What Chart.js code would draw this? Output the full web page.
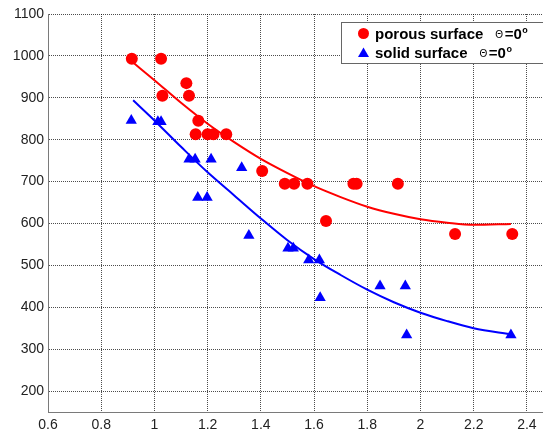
<!DOCTYPE html>
<html>
<head>
<meta charset="utf-8">
<script src="https://cdn.jsdelivr.net/npm/chart.js@4/dist/chart.umd.min.js"></script>
<style>
  html, body { margin: 0; padding: 0; background: #fff; overflow: hidden; }
  #wrap { width: 560px; height: 436px; position: relative; }
</style>
</head>
<body>
<div id="wrap"><canvas id="chart"></canvas></div>
<script>
// measured points, porous surface (red circles)
const porousX = [0.915, 1.025, 1.12, 1.03, 1.13, 1.165, 1.155, 1.2, 1.222, 1.27, 1.405, 1.49, 1.525, 1.575, 1.748, 1.76, 1.915, 1.645, 2.13, 2.345]
const porousY = [993, 993, 935, 905, 905, 845, 813, 813, 813, 813, 725, 695, 695, 695, 695, 695, 695, 606, 575, 575]

// measured points, solid surface (blue triangles)
const solidX = [0.913, 1.013, 1.025, 1.13, 1.153, 1.213, 1.328, 1.163, 1.198, 1.355, 1.502, 1.522, 1.58, 1.62, 1.623, 1.848, 1.943, 1.948, 2.34]
const solidY = [846, 843, 843, 753, 753, 753, 733, 662, 662, 571, 541, 541, 513, 513, 423, 451, 451, 334, 334]

// trend curves
const fitX = [0.92, 1.0, 1.1, 1.2, 1.3, 1.4, 1.5, 1.6, 1.7, 1.8, 1.9, 2.0, 2.1, 2.2, 2.34]
const porousFit = [984, 942, 888, 838, 794, 754, 720, 689, 663, 640, 623, 610, 602, 597, 599]
const solidFit = [894, 846, 783, 722, 667, 612, 560, 515, 477, 442, 412, 387, 367, 350, 335]

const xTicks = [0.6, 0.8, 1, 1.2, 1.4, 1.6, 1.8, 2, 2.2, 2.4]
const yTicks = [200, 300, 400, 500, 600, 700, 800, 900, 1000, 1100]

const legendRows = [
  { label: 'porous surface', color: '#ff0000', shape: 'circle' },
  { label: 'solid surface', color: '#0000ff', shape: 'triangle' }
]

const FONT = "'Liberation Sans', Arial, sans-serif"

const pairs = (xs, ys) => xs.map((x, i) => ({ x: x, y: ys[i] }))

// legend box drawn inside the plot, top right
const boxLegend = {
  id: 'boxLegend',
  afterDraw(chart) {
    const ctx = chart.ctx
    ctx.save()
    ctx.fillStyle = '#fff'
    ctx.strokeStyle = '#666'
    ctx.lineWidth = 1
    ctx.fillRect(341.5, 22.5, 212, 41)
    ctx.strokeRect(341.5, 22.5, 212, 41)

    legendRows.forEach((row, i) => {
      const cy = 33.5 + i * 19.5
      ctx.fillStyle = row.color
      ctx.beginPath()
      if (row.shape === 'circle') {
        ctx.arc(363.5, cy, 5.5, 0, Math.PI * 2)
      } else {
        ctx.moveTo(363.5, cy - 5.5)
        ctx.lineTo(369, cy + 4)
        ctx.lineTo(358, cy + 4)
        ctx.closePath()
      }
      ctx.fill()

      ctx.fillStyle = '#000'
      ctx.textBaseline = 'alphabetic'
      ctx.textAlign = 'left'
      ctx.font = 'bold 15px ' + FONT
      let x = 375
      const base = cy + 5
      ctx.fillText(row.label, x, base)
      x += ctx.measureText(row.label).width + 12
      ctx.font = '10px ' + FONT
      ctx.fillText('\u0398', x, base - 1)
      x += ctx.measureText('\u0398').width + 1.5
      ctx.font = 'bold 15px ' + FONT
      ctx.fillText('=0', x, base)
      x += ctx.measureText('=0').width + 0.5
      ctx.font = 'bold 9px ' + FONT
      ctx.fillText('o', x, base - 6)
    })
    ctx.restore()
  }
}

const gridOpts = {
  color: 'rgba(0,0,0,0.7)',
  lineWidth: 1,
  drawTicks: false
}
const borderOpts = {
  display: true,
  color: '#7a7a7a',
  width: 1,
  dash: [1, 1]
}

new Chart(document.getElementById('chart'), {
  data: {
    datasets: [
      {
        type: 'line',
        data: pairs(fitX, porousFit),
        borderColor: '#ff0000',
        borderWidth: 2,
        pointRadius: 0,
        cubicInterpolationMode: 'monotone',
        fill: false
      }, {
        type: 'line',
        data: pairs(fitX, solidFit),
        borderColor: '#0000ff',
        borderWidth: 2,
        pointRadius: 0,
        cubicInterpolationMode: 'monotone',
        fill: false
      }, {
        type: 'scatter',
        data: pairs(porousX, porousY),
        pointStyle: 'circle',
        pointRadius: 6,
        backgroundColor: '#ff0000',
        borderWidth: 0
      }, {
        type: 'scatter',
        data: pairs(solidX, solidY),
        pointStyle: 'triangle',
        pointRadius: 6.5,
        backgroundColor: '#0000ff',
        borderWidth: 0
      }]
  },
  options: {
    responsive: true,
    maintainAspectRatio: false,
    animation: false,
    layout: { padding: { top: 14, right: 6, left: 0, bottom: 0 } },
    plugins: {
      legend: { display: false },
      tooltip: { enabled: false }
    },
    scales: {
      x: {
        type: 'linear',
        min: 0.6,
        max: 2.5,
        grid: gridOpts,
        border: borderOpts,
        afterBuildTicks: (scale) => { scale.ticks = xTicks.map(v => ({ value: v })) },
        afterFit: (scale) => { scale.height = 24 },
        ticks: {
          padding: 5,
          color: '#222',
          font: { family: FONT, size: 14 },
          maxRotation: 0,
          callback: (v) => String(v)
        }
      },
      y: {
        type: 'linear',
        min: 150,
        max: 1100,
        grid: gridOpts,
        border: borderOpts,
        afterBuildTicks: (scale) => { scale.ticks = yTicks.map(v => ({ value: v })) },
        afterFit: (scale) => { scale.width = 48 },
        ticks: {
          padding: 4,
          color: '#222',
          font: { family: FONT, size: 14 },
          callback: (v) => String(v)
        }
      }
    }
  },
  plugins: [boxLegend]
})
</script>
</body>
</html>
